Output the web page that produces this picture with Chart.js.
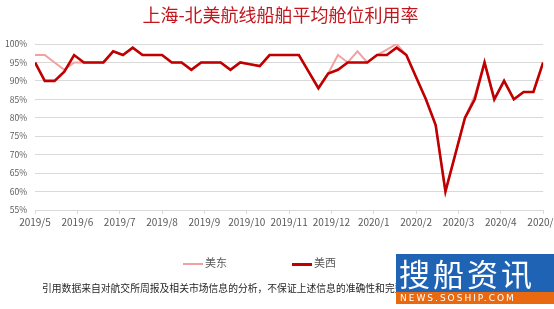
<!DOCTYPE html>
<html lang="zh">
<head>
<meta charset="UTF-8">
<title>上海-北美航线船舶平均舱位利用率</title>
<script src="https://cdn.jsdelivr.net/npm/chart.js"></script>
<style>
    body {
        margin: 0;
        padding: 0;
        background: #fff;
        overflow: hidden;
        font-family: "Noto Sans CJK SC", sans-serif;
    }
    .wrap {
        position: relative;
        width: 554px;
        height: 309px;
        overflow: hidden;
    }
    #grafico {
        position: absolute;
        left: 0;
        top: 0;
    }
    .legenda {
        position: absolute;
        top: 254px;
        font-size: 11px;
        color: #595959;
        line-height: 16px;
    }
    .legenda span.linha {
        display: inline-block;
        width: 20px;
        vertical-align: middle;
        margin-right: 2px;
    }
    .nota {
        position: absolute;
        left: 42px;
        top: 281px;
        font-size: 9.8px;
        color: #262626;
        white-space: nowrap;
    }
    .marca {
        position: absolute;
        left: 396px;
        top: 254px;
        width: 158px;
    }
    .marca .cima {
        background: #1f63b5;
        color: #fff;
        height: 38px;
        line-height: 38px;
        font-size: 31px;
        letter-spacing: 3px;
        padding-left: 3px;
        white-space: nowrap;
    }
    .marca .baixo {
        background: #e8690f;
        color: #fff;
        height: 12px;
        line-height: 12px;
        font-size: 9px;
        letter-spacing: 2px;
        padding-left: 4px;
        font-family: "DejaVu Sans", sans-serif;
        white-space: nowrap;
    }
</style>
</head>
<body>

<div class="wrap">
    <canvas id="grafico" width="561" height="309"></canvas>

    <div class="legenda" style="left:183px"><span class="linha" style="border-top:2px solid #f3a0a0"></span>美东</div>
    <div class="legenda" style="left:292px"><span class="linha" style="border-top:3px solid #c00000"></span>美西</div>

    <div class="nota">引用数据来自对航交所周报及相关市场信息的分析，不保证上述信息的准确性和完整性。</div>

    <div class="marca">
        <div class="cima">搜船资讯</div>
        <div class="baixo">NEWS.SOSHIP.COM</div>
    </div>
</div>

<script>
// rótulos dos meses no eixo x
var monthLabels = ['2019/5', '2019/6', '2019/7', '2019/8', '2019/9', '2019/10', '2019/11',
                   '2019/12', '2020/1', '2020/2', '2020/3', '2020/4', '2020/5'];

// valores semanais (%)
var usEast = [97, 97, 95, 93, 95, 95, 95, 95, 98, 97,
              99, 97, 97, 97, 95, 95, 93, 95, 95, 95,
              93, 95, 94.5, 94, 97, 97, 97, 97, 92.5, 88,
              92, 97, 95, 98, 95, 97, 98.5, 100, 97, 91,
              85, 78, 60, 70, 80, 86, 95, 85, 90, 85,
              87, 87, 95];
var usWest = [95, 90, 90, 92.5, 97, 95, 95, 95, 98, 97,
              99, 97, 97, 97, 95, 95, 93, 95, 95, 95,
              93, 95, 94.5, 94, 97, 97, 97, 97, 92.5, 88,
              92, 93, 95, 95, 95, 97, 97, 99, 97, 91,
              85, 78, 60, 70, 80, 85, 95, 85, 90, 85,
              87, 87, 95];

var yMin = 55, yMax = 100, yStep = 5;

var lastWeek = usWest.length - 1;

function pontos(arr) {
    return arr.map(function (v, i) { return { x: i, y: v }; });
}

var ctx = document.getElementById('grafico').getContext('2d');
new Chart(ctx, {
    type: 'line',
    data: {
        datasets: [
            { label: '美东', data: pontos(usEast), borderColor: '#f3a0a0', borderWidth: 2, pointRadius: 0, order: 2 },
            { label: '美西', data: pontos(usWest), borderColor: '#c00000', borderWidth: 2.6, pointRadius: 0, order: 1 }
        ]
    },
    options: {
        responsive: false,
        animation: false,
        layout: { padding: { bottom: 79 } },
        plugins: {
            legend: { display: false },
            tooltip: { enabled: false },
            title: {
                display: true,
                text: '上海-北美航线船舶平均舱位利用率',
                color: '#c3161c',
                font: { size: 18, weight: 'normal', family: '"Noto Sans CJK SC", sans-serif' },
                padding: { top: 4, bottom: 18.4 }
            }
        },
        scales: {
            x: {
                type: 'linear',
                min: 0,
                max: lastWeek,
                afterBuildTicks: function (axis) {
                    axis.ticks = monthLabels.map(function (m, i) {
                        return { value: i * lastWeek / (monthLabels.length - 1) };
                    });
                },
                ticks: {
                    autoSkip: false,
                    maxRotation: 0,
                    padding: 2,
                    color: '#595959',
                    font: { size: 10, family: '"Noto Sans CJK SC", sans-serif' },
                    callback: function (v, i) { return monthLabels[i]; }
                },
                grid: { drawOnChartArea: false, tickLength: 4, color: '#d9d9d9' },
                border: { color: '#d9d9d9' }
            },
            y: {
                min: yMin,
                max: yMax,
                afterFit: function (s) { s.width = 35; },
                ticks: {
                    stepSize: yStep,
                    padding: 8,
                    color: '#595959',
                    font: { size: 8.5, family: '"Noto Sans CJK SC", sans-serif' },
                    callback: function (v) { return v + '%'; }
                },
                grid: { color: '#d9d9d9', drawTicks: false },
                border: { display: false }
            }
        }
    }
});
</script>

</body>
</html>
